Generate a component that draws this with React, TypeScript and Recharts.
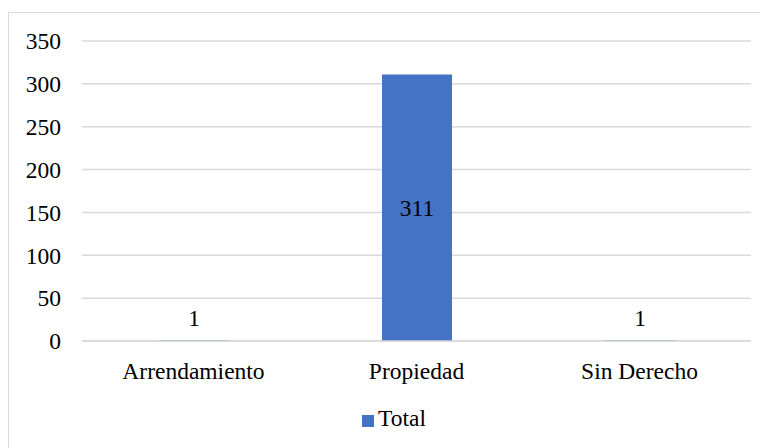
import React from 'react';
import { BarChart, Bar, XAxis, YAxis, CartesianGrid, Legend, LabelList } from 'recharts';

const categories = ['Arrendamiento', 'Propiedad', 'Sin Derecho'];
const totals = [1, 311, 1];
const yTicks = [0, 50, 100, 150, 200, 250, 300, 350];
const seriesName = 'Total';

const FONT = 'Liberation Serif, serif';
const FONT_SIZE = 23.5;
const BAR_COLOR = '#4472C4';
const GRID_COLOR = '#d9d9d9';

const data = categories.map((name, i) => ({ name, [seriesName]: totals[i] }));

// centre the value inside tall bars, lift it above bars too short to hold it
const ValueLabel = (props: any) => {
  const { x, y, width, height, value } = props;
  const cx = Number(x) + Number(width) / 2;
  const h = Number(height);
  const cy = h < 30 ? Number(y) - 22 : Number(y) + h / 2;
  return (
    <text
      x={cx}
      y={cy}
      textAnchor="middle"
      dominantBaseline="central"
      fill="#000"
      style={{ fontFamily: FONT, fontSize: FONT_SIZE }}
    >
      {value}
    </text>
  );
};

const tickStyle = { fill: '#000', fontFamily: FONT, fontSize: FONT_SIZE };

export default function App() {
  return (
    <div
      style={{
        marginTop: 4,
        width: 760,
        height: 436,
        borderTop: `1px solid ${GRID_COLOR}`,
        borderLeft: `1px solid ${GRID_COLOR}`,
        fontFamily: FONT,
      }}
    >
      <BarChart
        width={759}
        height={435}
        data={data}
        margin={{ top: 28, right: 17, bottom: 20, left: 0 }}
        style={{ fontFamily: FONT }}
      >
        <CartesianGrid vertical={false} stroke={GRID_COLOR} strokeWidth={1.5} />
        <XAxis
          dataKey="name"
          axisLine={{ stroke: GRID_COLOR, strokeWidth: 1.5 }}
          tickLine={false}
          tickSize={0}
          tickMargin={21}
          height={60}
          tick={tickStyle}
        />
        <YAxis
          domain={[0, 350]}
          ticks={yTicks}
          axisLine={false}
          tickLine={false}
          tickSize={0}
          tickMargin={21}
          width={73}
          tick={tickStyle}
        />
        <Legend
          verticalAlign="bottom"
          iconType="square"
          iconSize={12}
          wrapperStyle={{
            fontFamily: FONT,
            fontSize: FONT_SIZE,
            color: '#000',
            bottom: 16,
            paddingLeft: 38,
            boxSizing: 'border-box',
          }}
          formatter={(value: string) => (
            <span style={{ color: '#000', fontFamily: FONT }}>{value}</span>
          )}
        />
        <Bar dataKey={seriesName} fill={BAR_COLOR} barSize={70} isAnimationActive={false}>
          <LabelList dataKey={seriesName} content={ValueLabel} />
        </Bar>
      </BarChart>
    </div>
  );
}
